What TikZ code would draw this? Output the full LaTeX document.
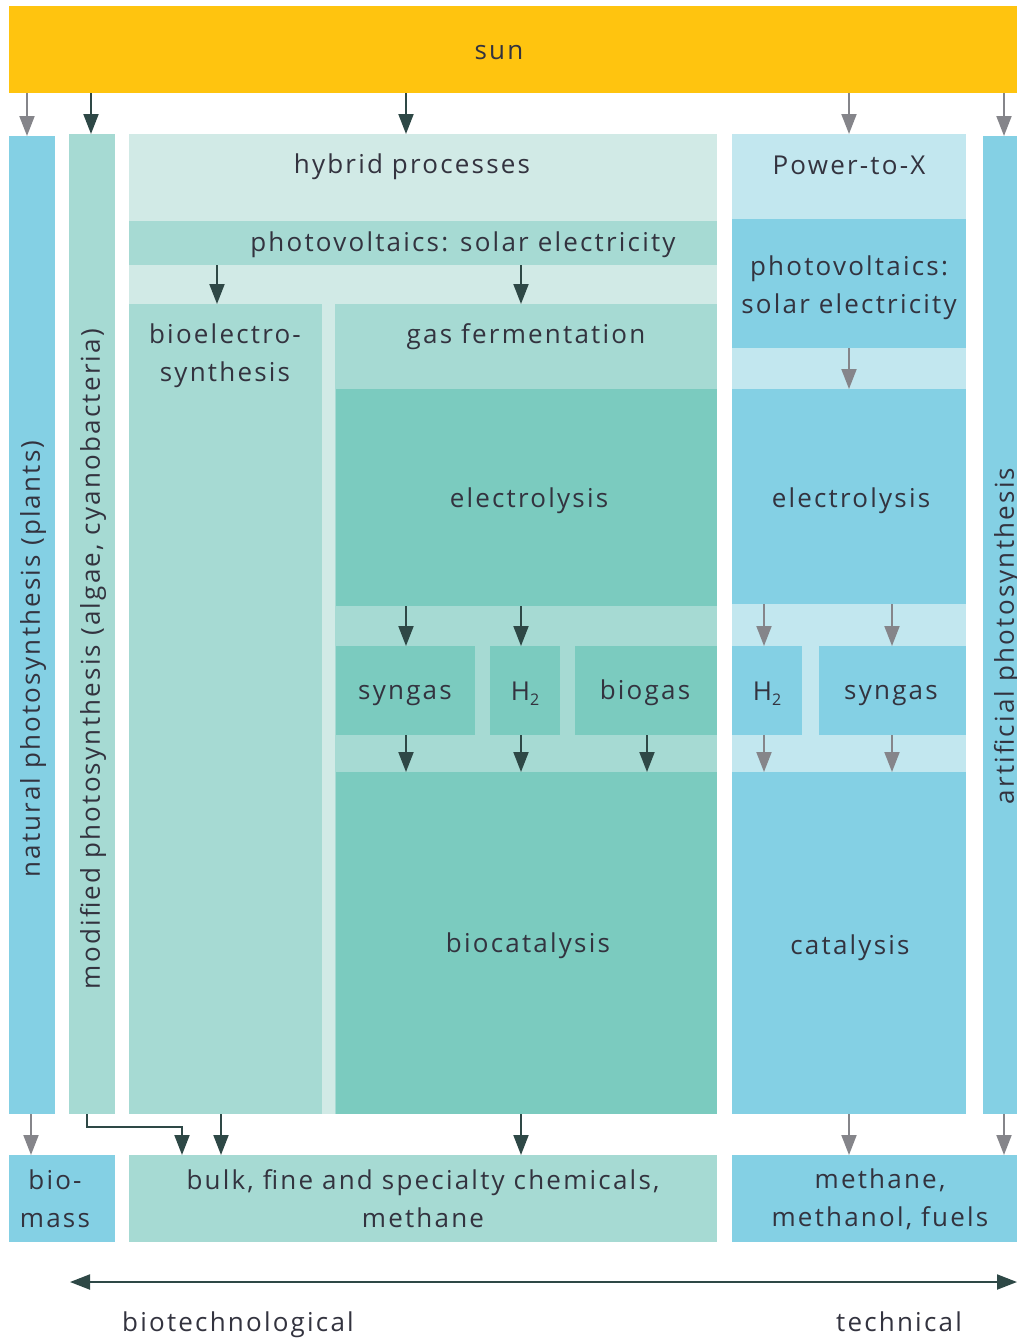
\documentclass[tikz,border=0pt]{standalone}
\usepackage{fontspec}
\setmainfont{Open Sans}[LetterSpace=8.5]
\usetikzlibrary{arrows.meta,fit}
\definecolor{sunyellow}{HTML}{FFC40F}
\definecolor{blueA}{HTML}{84D0E4}
\definecolor{blueB}{HTML}{C2E7EF}
\definecolor{tealA}{HTML}{7BCBBF}
\definecolor{tealB}{HTML}{A6DAD3}
\definecolor{tealC}{HTML}{D1EAE6}
\definecolor{txt}{HTML}{33333F}
\definecolor{darkarr}{HTML}{2E4846}
\definecolor{grayarr}{HTML}{85858A}
\newcommand{\subtwo}{\raisebox{-0.35ex}{\fontsize{8}{8}\selectfont 2}}
\begin{document}
\begin{tikzpicture}[x=0.5pt,y=-0.5pt,
    box/.style={inner sep=0pt,outer sep=0pt,draw=none},
    lbl/.style={text=txt,font=\fontsize{13}{19}\selectfont,align=center,inner sep=0pt},
    darr/.style={draw=darkarr,line width=1pt,-{Triangle[width=7.5pt,length=10pt]}},
    garr/.style={draw=grayarr,line width=1pt,-{Triangle[width=7.5pt,length=10pt]}}]
  \useasboundingbox (0,0) rectangle (1017,1340);%
  \clip (0,0) rectangle (1017,1340);%

  % sun and side columns
  \node[box,fill=sunyellow,fit={(9,6) (1030,93)}] (sun) {};%
  \node[box,fill=blueA,fit={(9,136) (55,1114)}] (nat) {};%
  \node[box,fill=tealB,fit={(69,134) (115,1114)}] (modp) {};%
  \node[box,fill=blueA,fit={(983,136) (1030,1114)}] (art) {};%

  % hybrid processes
  \node[box,fill=tealC,fit={(129,134) (717,1114)}] (hyb) {};%
  \node[box,fill=tealB,fit={(129,221) (717,265)}] (pvh) {};%
  \node[box,fill=tealB,fit={(129,304) (322,1114)}] (bioel) {};%
  \node[box,fill=tealB,fit={(335,304) (717,1114)}] (gasf) {};%
  \node[box,fill=tealA,fit={(336,389) (717,606)}] (elh) {};%
  \node[box,fill=tealA,fit={(336,646) (475,735)}] (syh) {};%
  \node[box,fill=tealA,fit={(490,646) (560,735)}] (hyh) {};%
  \node[box,fill=tealA,fit={(575,646) (717,735)}] (biog) {};%
  \node[box,fill=tealA,fit={(336,772) (717,1114)}] (bcat) {};%

  % Power-to-X
  \node[box,fill=blueB,fit={(732,134) (966,1114)}] (ptx) {};%
  \node[box,fill=blueA,fit={(732,219) (966,348)}] (pvx) {};%
  \node[box,fill=blueA,fit={(732,389) (966,604)}] (elx) {};%
  \node[box,fill=blueA,fit={(732,646) (802,735)}] (hyx) {};%
  \node[box,fill=blueA,fit={(819,646) (966,735)}] (syx) {};%
  \node[box,fill=blueA,fit={(732,772) (966,1114)}] (cat) {};%

  % products
  \node[box,fill=blueA,fit={(9,1155) (115,1242)}] (biom) {};%
  \node[box,fill=tealB,fit={(129,1155) (717,1242)}] (bulk) {};%
  \node[box,fill=blueA,fit={(732,1155) (1030,1242)}] (meth) {};%

  % labels
  \node[lbl] (sunT) at (499,53) {sun};%
  \node[lbl,rotate=90] (natT) at (33,659) {natural photosynthesis (plants)};%
  \node[lbl,rotate=90] (modT) at (93,659) {modified photosynthesis (algae, cyanobacteria)};%
  \node[lbl,rotate=90] (artT) at (1007,636) {artificial photosynthesis};%
  \node[lbl] (hybT) at (412,167) {hybrid processes};%
  \node[lbl] (pvhT) at (463,245) {photovoltaics: solar electricity};%
  \node[lbl] (bioelT) at (225,356) {bioelectro-\\synthesis};%
  \node[lbl] (gasfT) at (526,337) {gas fermentation};%
  \node[lbl] (elhT) at (529,501) {electrolysis};%
  \node[lbl] (syhT) at (405,696) {syngas};%
  \node[lbl] (hyhT) at (525,694) {H\subtwo};%
  \node[lbl] (biogT) at (645,693) {biogas};%
  \node[lbl] (bcatT) at (528,946) {biocatalysis};%
  \node[lbl] (ptxT) at (849,165) {Power-to-X};%
  \node[lbl] (pvxT) at (849,288) {photovoltaics:\\solar electricity};%
  \node[lbl] (elxT) at (851,501) {electrolysis};%
  \node[lbl] (hyxT) at (767,694) {H\subtwo};%
  \node[lbl] (syxT) at (891,696) {syngas};%
  \node[lbl] (catT) at (850,948) {catalysis};%
  \node[lbl] (biomT) at (55,1199) {bio-\\mass};%
  \node[lbl] (bulkT) at (423,1199) {bulk, fine and specialty chemicals,\\methane};%
  \node[lbl] (methT) at (880,1199) {methane,\\methanol, fuels};%
  \node[lbl] (biotT) at (238,1325) {biotechnological};%
  \node[lbl] (techT) at (899,1322) {technical};%

  % arrows from the sun
  \draw[garr] (27,0 |- sun.south) -- (27,0 |- nat.north);%
  \draw[darr] (91,0 |- sun.south) -- (91,0 |- modp.north);%
  \draw[darr] (406,0 |- sun.south) -- (406,0 |- hyb.north);%
  \draw[garr] (849,0 |- sun.south) -- (849,0 |- ptx.north);%
  \draw[garr] (1004,0 |- sun.south) -- (1004,0 |- art.north);%

  % arrows in hybrid processes
  \draw[darr] (217,0 |- pvh.south) -- (217,0 |- bioel.north);%
  \draw[darr] (521,0 |- pvh.south) -- (521,0 |- gasf.north);%
  \draw[darr] (406,0 |- elh.south) -- (406,0 |- syh.north);%
  \draw[darr] (521,0 |- elh.south) -- (521,0 |- hyh.north);%
  \draw[darr] (406,0 |- syh.south) -- (406,0 |- bcat.north);%
  \draw[darr] (521,0 |- hyh.south) -- (521,0 |- bcat.north);%
  \draw[darr] (647,0 |- biog.south) -- (647,0 |- bcat.north);%

  % arrows in Power-to-X
  \draw[garr] (pvx.south) -- (elx.north);%
  \draw[garr] (764,0 |- elx.south) -- (764,0 |- hyx.north);%
  \draw[garr] (892,0 |- elx.south) -- (892,0 |- syx.north);%
  \draw[garr] (764,0 |- hyx.south) -- (764,0 |- cat.north);%
  \draw[garr] (892,0 |- syx.south) -- (892,0 |- cat.north);%

  % arrows to the products
  \draw[garr] (31,0 |- nat.south) -- (31,0 |- biom.north);%
  \draw[darr] (87,0 |- modp.south) |- (182,1127) -- (182,0 |- bulk.north);%
  \draw[darr] (221,0 |- bioel.south) -- (221,0 |- bulk.north);%
  \draw[darr] (521,0 |- gasf.south) -- (521,0 |- bulk.north);%
  \draw[garr] (849,0 |- cat.south) -- (849,0 |- meth.north);%
  \draw[garr] (1004,0 |- art.south) -- (1004,0 |- meth.north);%

  % axis
  \coordinate (axL) at (70,1282);%
  \coordinate (axR) at (1017,1282);%
  \draw[darr,{Triangle[width=7.5pt,length=10pt]}-{Triangle[width=7.5pt,length=10pt]}] (axL) -- (axR);%
\end{tikzpicture}
\end{document}
